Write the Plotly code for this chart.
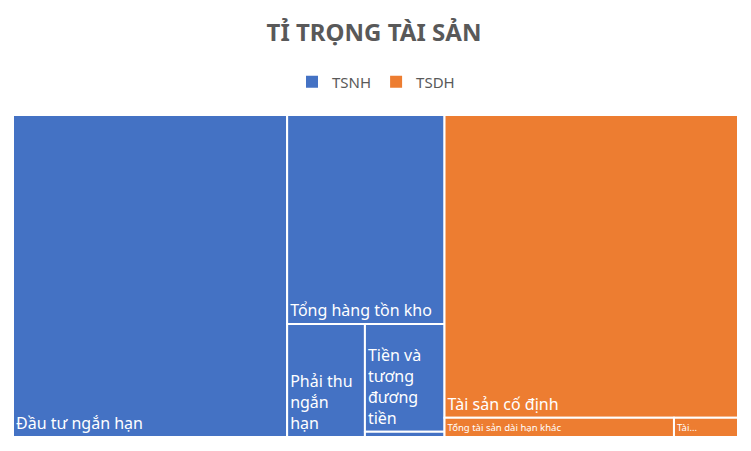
import plotly.graph_objects as go

# data
groups = ["TSNH", "TSDH"]
group_colors = ["#4472C4", "#ED7D31"]

items = [
    "Đầu tư ngắn hạn",
    "Tổng hàng tồn kho",
    "Phải thu ngắn hạn",
    "Tiền và tương đương tiền",
    "Tài sản ngắn hạn khác",
    "Tài sản cố định",
    "Tổng tài sản dài hạn khác",
    "Tài sản dở dang dài hạn",
]
item_groups = ["TSNH", "TSNH", "TSNH", "TSNH", "TSNH", "TSDH", "TSDH", "TSDH"]
item_values = [86400, 32200, 8600, 8400, 400, 87000, 4300, 1200]
# labels as Excel shows them (wrapped / truncated)
item_text = [
    "Đầu tư ngắn hạn",
    "Tổng hàng tồn kho",
    "Phải thu<br>ngắn<br>hạn",
    "Tiền và<br>tương<br>đương<br>tiền",
    "",
    "Tài sản cố định",
    "Tổng tài sản dài hạn khác",
    "Tài...",
]

FONT = "Noto Sans"
GREY = "#595959"

color_of = dict(zip(groups, group_colors))
ids = groups + items
labels = groups + items
parents = ["", ""] + item_groups
values = [
    sum(v for v, g in zip(item_values, item_groups) if g == grp) for grp in groups
] + item_values
texts = ["", ""] + item_text
colors = group_colors + [color_of[g] for g in item_groups]

W, H = 751, 451
OFF = 8  # page body margin shifts the figure by this much


def px(x):
    return (x - OFF) / W


def py(y):
    return 1 - (y - OFF) / H


fig = go.Figure()
fig.add_trace(
    go.Treemap(
        ids=ids,
        labels=labels,
        parents=parents,
        values=values,
        text=texts,
        textinfo="text",
        branchvalues="total",
        sort=True,
        marker=dict(
            colors=colors,
            line=dict(color="white", width=2),
            pad=dict(t=0, l=0, r=0, b=0),
        ),
        tiling=dict(packing="squarify", squarifyratio=1, pad=0),
        pathbar=dict(visible=False),
        root=dict(color="white"),
        textposition="bottom left",
        textfont=dict(family=FONT, size=16, color="white"),
        hoverinfo="label+value",
        domain=dict(x=[px(13), px(738)], y=[py(437), py(115)]),
    )
)

# legend entries for the two groups
for grp, col in zip(groups, group_colors):
    fig.add_trace(
        go.Scatter(
            x=[None], y=[None], mode="markers", name=grp,
            marker=dict(symbol="square", size=11, color=col),
        )
    )

fig.update_layout(
    width=W,
    height=H,
    margin=dict(l=0, r=0, t=0, b=0),
    paper_bgcolor="white",
    plot_bgcolor="white",
    title=dict(
        text="<b>TỈ TRỌNG TÀI SẢN</b>",
        x=px(374), xanchor="center",
        y=py(33), yanchor="middle",
        font=dict(family=FONT, size=24, color=GREY),
    ),
    legend=dict(
        orientation="h",
        x=px(376), xanchor="center",
        y=py(82), yanchor="middle",
        font=dict(family=FONT, size=15, color=GREY),
        itemsizing="constant",
    ),
    xaxis=dict(visible=False),
    yaxis=dict(visible=False),
)

fig.write_html("out.html")
